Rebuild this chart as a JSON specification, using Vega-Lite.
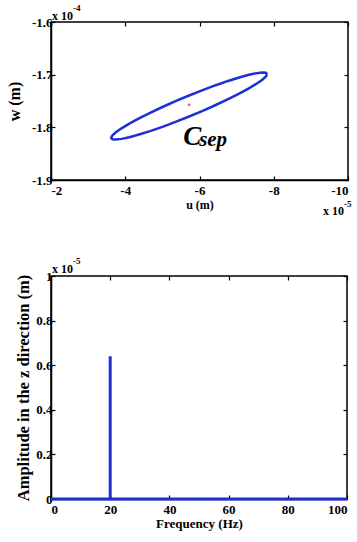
{
  "$schema": "https://vega.github.io/schema/vega-lite/v6.json",
  "padding": {"left": 5, "top": 3, "right": 5, "bottom": 3},
  "spacing": 38,
  "config": {
    "font": "Liberation Serif",
    "view": {"stroke": "black", "strokeWidth": 1.5},
    "axis": {
      "grid": false, "domainColor": "black", "domainWidth": 1.5, "tickColor": "black", "tickWidth": 1.2,
      "tickSize": -4, "labelPadding": 6, "labelFont": "Liberation Serif", "labelFontWeight": "bold",
      "labelFontSize": 13, "labelColor": "black", "titleFont": "Liberation Serif", "titleFontWeight": "bold",
      "titleFontSize": 12, "titleColor": "black"
    },
    "axisX": {"labelPadding": 8},
    "axisY": {"labelPadding": 3}
  },
  "datasets": {
    "ellipse": [
      {"k": 0, "u": -7.82, "w": -1.699},
      {"k": 1, "u": -7.788, "w": -1.6964},
      {"k": 2, "u": -7.693, "w": -1.6958},
      {"k": 3, "u": -7.539, "w": -1.6971},
      {"k": 4, "u": -7.329, "w": -1.7003},
      {"k": 5, "u": -7.07, "w": -1.7053},
      {"k": 6, "u": -6.77, "w": -1.7119},
      {"k": 7, "u": -6.438, "w": -1.72},
      {"k": 8, "u": -6.085, "w": -1.7293},
      {"k": 9, "u": -5.72, "w": -1.7395},
      {"k": 10, "u": -5.355, "w": -1.7503},
      {"k": 11, "u": -5.002, "w": -1.7614},
      {"k": 12, "u": -4.67, "w": -1.7724},
      {"k": 13, "u": -4.37, "w": -1.7831},
      {"k": 14, "u": -4.111, "w": -1.793},
      {"k": 15, "u": -3.901, "w": -1.8019},
      {"k": 16, "u": -3.747, "w": -1.8095},
      {"k": 17, "u": -3.652, "w": -1.8156},
      {"k": 18, "u": -3.62, "w": -1.82},
      {"k": 19, "u": -3.652, "w": -1.8226},
      {"k": 20, "u": -3.747, "w": -1.8232},
      {"k": 21, "u": -3.901, "w": -1.8219},
      {"k": 22, "u": -4.111, "w": -1.8187},
      {"k": 23, "u": -4.37, "w": -1.8137},
      {"k": 24, "u": -4.67, "w": -1.8071},
      {"k": 25, "u": -5.002, "w": -1.799},
      {"k": 26, "u": -5.355, "w": -1.7897},
      {"k": 27, "u": -5.72, "w": -1.7795},
      {"k": 28, "u": -6.085, "w": -1.7687},
      {"k": 29, "u": -6.438, "w": -1.7576},
      {"k": 30, "u": -6.77, "w": -1.7466},
      {"k": 31, "u": -7.07, "w": -1.7359},
      {"k": 32, "u": -7.329, "w": -1.726},
      {"k": 33, "u": -7.539, "w": -1.7171},
      {"k": 34, "u": -7.693, "w": -1.7095},
      {"k": 35, "u": -7.788, "w": -1.7034},
      {"k": 36, "u": -7.82, "w": -1.699}
    ],
    "center": [{"u": -5.72, "w": -1.7575}],
    "spectrum": [
      {"k": 0, "f": 0, "a": 0},
      {"k": 1, "f": 20, "a": 0},
      {"k": 2, "f": 20, "a": 0.64},
      {"k": 3, "f": 20, "a": 0},
      {"k": 4, "f": 100, "a": 0}
    ],
    "one": [{}]
  },
  "vconcat": [
    {
      "width": 297,
      "height": 158,
      "resolve": {"axis": {"x": "independent", "y": "independent"}},
      "layer": [
        {
          "data": {"name": "ellipse"},
          "mark": {"type": "line", "color": "#1f2fd6", "strokeWidth": 2.5},
          "encoding": {
            "x": {"field": "u", "type": "quantitative",
              "scale": {"domain": [-10, -2], "reverse": true, "nice": false, "zero": false},
              "axis": {"values": [-2, -4, -6, -8, -10], "title": "u (m)", "titlePadding": 2, "labelExpr": "replace(datum.label, '\u2212', '-')"}},
            "y": {"field": "w", "type": "quantitative",
              "scale": {"domain": [-1.9, -1.6], "nice": false, "zero": false},
              "axis": {"values": [-1.9, -1.8, -1.7, -1.6], "format": "~g", "title": "w (m)", "titleFontSize": 16, "titlePadding": 9, "labelExpr": "replace(datum.label, '\u2212', '-')"}},
            "order": {"field": "k", "type": "quantitative"}
          }
        },
        {
          "data": {"name": "center"},
          "mark": {"type": "point", "filled": true, "color": "#ee2222", "size": 8},
          "encoding": {
            "x": {"field": "u", "type": "quantitative", "axis": null},
            "y": {"field": "w", "type": "quantitative", "axis": null}
          }
        },
        {
          "data": {"name": "one"},
          "mark": {"type": "text", "text": "C", "font": "Liberation Serif", "fontWeight": "bold", "fontStyle": "italic", "fontSize": 27, "align": "left", "baseline": "alphabetic", "color": "black"},
          "encoding": {"x": {"datum": -5.56, "type": "quantitative", "axis": null}, "y": {"datum": -1.8335, "type": "quantitative", "axis": null}}
        },
        {
          "data": {"name": "one"},
          "mark": {"type": "text", "text": "sep", "font": "Liberation Serif", "fontWeight": "bold", "fontStyle": "italic", "fontSize": 21, "align": "left", "baseline": "alphabetic", "color": "black"},
          "encoding": {"x": {"datum": -5.99, "type": "quantitative", "axis": null}, "y": {"datum": -1.8354, "type": "quantitative", "axis": null}}
        },
        {
          "data": {"name": "one"},
          "mark": {"type": "text", "text": "x 10", "font": "Liberation Serif", "fontWeight": "bold", "fontSize": 12, "align": "left", "baseline": "alphabetic", "dx": 1, "dy": -2, "color": "black"},
          "encoding": {"x": {"datum": -2, "type": "quantitative", "axis": null}, "y": {"datum": -1.6, "type": "quantitative", "axis": null}}
        },
        {
          "data": {"name": "one"},
          "mark": {"type": "text", "text": "-4", "font": "Liberation Serif", "fontWeight": "bold", "fontSize": 9, "align": "left", "baseline": "alphabetic", "dx": 22, "dy": -11, "color": "black"},
          "encoding": {"x": {"datum": -2, "type": "quantitative", "axis": null}, "y": {"datum": -1.6, "type": "quantitative", "axis": null}}
        },
        {
          "data": {"name": "one"},
          "mark": {"type": "text", "text": "x 10", "font": "Liberation Serif", "fontWeight": "bold", "fontSize": 12, "align": "right", "baseline": "alphabetic", "dx": -4, "dy": 35, "color": "black"},
          "encoding": {"x": {"datum": -10, "type": "quantitative", "axis": null}, "y": {"datum": -1.9, "type": "quantitative", "axis": null}}
        },
        {
          "data": {"name": "one"},
          "mark": {"type": "text", "text": "-5", "font": "Liberation Serif", "fontWeight": "bold", "fontSize": 9, "align": "left", "baseline": "alphabetic", "dx": -4, "dy": 27, "color": "black"},
          "encoding": {"x": {"datum": -10, "type": "quantitative", "axis": null}, "y": {"datum": -1.9, "type": "quantitative", "axis": null}}
        },
        {
          "data": {"name": "center"},
          "mark": {"type": "point", "opacity": 0},
          "encoding": {
            "x": {"field": "u", "type": "quantitative", "axis": {"orient": "top", "values": [-2, -4, -6, -8, -10], "labels": false, "title": null, "domain": false}},
            "y": {"field": "w", "type": "quantitative", "axis": {"orient": "right", "values": [-1.9, -1.8, -1.7, -1.6], "labels": false, "title": null, "domain": false}}
          }
        }
      ]
    },
    {
      "width": 296,
      "height": 223,
      "resolve": {"axis": {"x": "independent", "y": "independent"}},
      "layer": [
        {
          "data": {"name": "spectrum"},
          "mark": {"type": "line", "color": "#1f2fd6", "strokeWidth": 3},
          "encoding": {
            "x": {"field": "f", "type": "quantitative",
              "scale": {"domain": [0, 100], "nice": false},
              "axis": {"values": [0, 20, 40, 60, 80, 100], "title": "Frequency (Hz)", "titlePadding": 1, "titleFontSize": 13}},
            "y": {"field": "a", "type": "quantitative",
              "scale": {"domain": [0, 1], "nice": false},
              "axis": {"values": [0, 0.2, 0.4, 0.6, 0.8, 1], "format": "~g", "title": "Amplitude in the z direction (m)", "titlePadding": 4, "titleFontSize": 16.5}},
            "order": {"field": "k", "type": "quantitative"}
          }
        },
        {
          "data": {"name": "one"},
          "mark": {"type": "text", "text": "x 10", "font": "Liberation Serif", "fontWeight": "bold", "fontSize": 12, "align": "left", "baseline": "alphabetic", "dx": 1, "dy": -3, "color": "black"},
          "encoding": {"x": {"datum": 0, "type": "quantitative", "axis": null}, "y": {"datum": 1, "type": "quantitative", "axis": null}}
        },
        {
          "data": {"name": "one"},
          "mark": {"type": "text", "text": "-5", "font": "Liberation Serif", "fontWeight": "bold", "fontSize": 9, "align": "left", "baseline": "alphabetic", "dx": 22, "dy": -12, "color": "black"},
          "encoding": {"x": {"datum": 0, "type": "quantitative", "axis": null}, "y": {"datum": 1, "type": "quantitative", "axis": null}}
        },
        {
          "data": {"name": "spectrum"},
          "mark": {"type": "point", "opacity": 0},
          "encoding": {
            "x": {"field": "f", "type": "quantitative", "axis": {"orient": "top", "values": [0, 20, 40, 60, 80, 100], "labels": false, "title": null, "domain": false}},
            "y": {"field": "a", "type": "quantitative", "axis": {"orient": "right", "values": [0, 0.2, 0.4, 0.6, 0.8, 1], "labels": false, "title": null, "domain": false}}
          }
        }
      ]
    }
  ]
}
